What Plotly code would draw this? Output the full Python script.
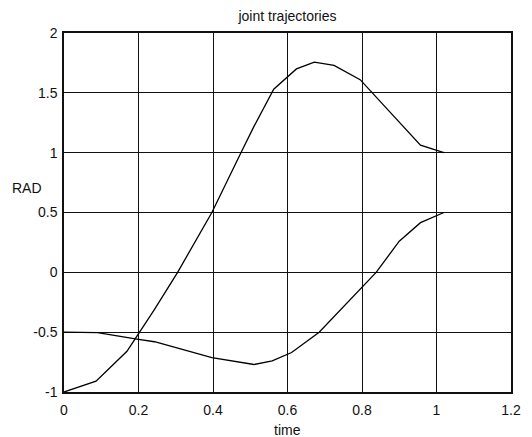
import plotly.graph_objects as go

# Joint trajectories sampled over time
t1 = [0.0, 0.086, 0.169, 0.243, 0.305, 0.397, 0.475, 0.51, 0.563, 0.624, 0.672, 0.725, 0.795, 0.957, 1.02]
q1 = [-1.0, -0.91, -0.66, -0.31, 0.0, 0.5, 1.0, 1.22, 1.53, 1.70, 1.757, 1.73, 1.61, 1.063, 1.0]

t2 = [0.0, 0.09, 0.2, 0.243, 0.397, 0.51, 0.559, 0.611, 0.685, 0.797, 0.838, 0.9, 0.957, 1.02]
q2 = [-0.5, -0.504, -0.56, -0.58, -0.713, -0.77, -0.74, -0.67, -0.5, -0.14, 0.0, 0.26, 0.415, 0.5]

x_ticks = [0, 0.2, 0.4, 0.6, 0.8, 1, 1.2]
y_ticks = [-1, -0.5, 0, 0.5, 1, 1.5, 2]

font = "Liberation Sans, Arial, sans-serif"
ink = "#111111"

fig = go.Figure()
for t, q in [(t1, q1), (t2, q2)]:
    fig.add_trace(go.Scatter(x=t, y=q, mode="lines",
                             line=dict(color="black", width=1.3),
                             showlegend=False, hoverinfo="skip"))

axis_common = dict(
    showgrid=True, gridcolor=ink, gridwidth=1.3,
    showline=True, linecolor=ink, linewidth=1.5, mirror=True,
    zeroline=False, ticks="", tickfont=dict(family=font, size=14, color=ink),
)

fig.update_layout(
    width=532, height=437,
    margin=dict(l=64, r=11, t=33, b=45),
    paper_bgcolor="white", plot_bgcolor="white",
    title=dict(text="joint trajectories", x=0.5, xanchor="center",
               xref="paper", y=1 - 16 / 437, yref="container", yanchor="middle",
               font=dict(family=font, size=14, color=ink)),
    xaxis=dict(range=[0, 1.2], tickvals=x_ticks, ticklabelstandoff=4,
               ticktext=[f"{v:g}" for v in x_ticks], **axis_common),
    yaxis=dict(range=[-1, 2], tickvals=y_ticks, ticklabelstandoff=2,
               ticktext=[f"{v:g}" for v in y_ticks], **axis_common),
    annotations=[
        dict(text="time", x=0.5, y=-0.078, xref="paper", yref="paper",
             xanchor="center", yanchor="top", showarrow=False,
             font=dict(family=font, size=14, color=ink)),
        dict(text="RAD", x=-0.12, y=0.567, xref="paper", yref="paper",
             xanchor="left", yanchor="middle", showarrow=False,
             font=dict(family=font, size=14, color=ink)),
    ],
)

fig.write_html("out.html")
